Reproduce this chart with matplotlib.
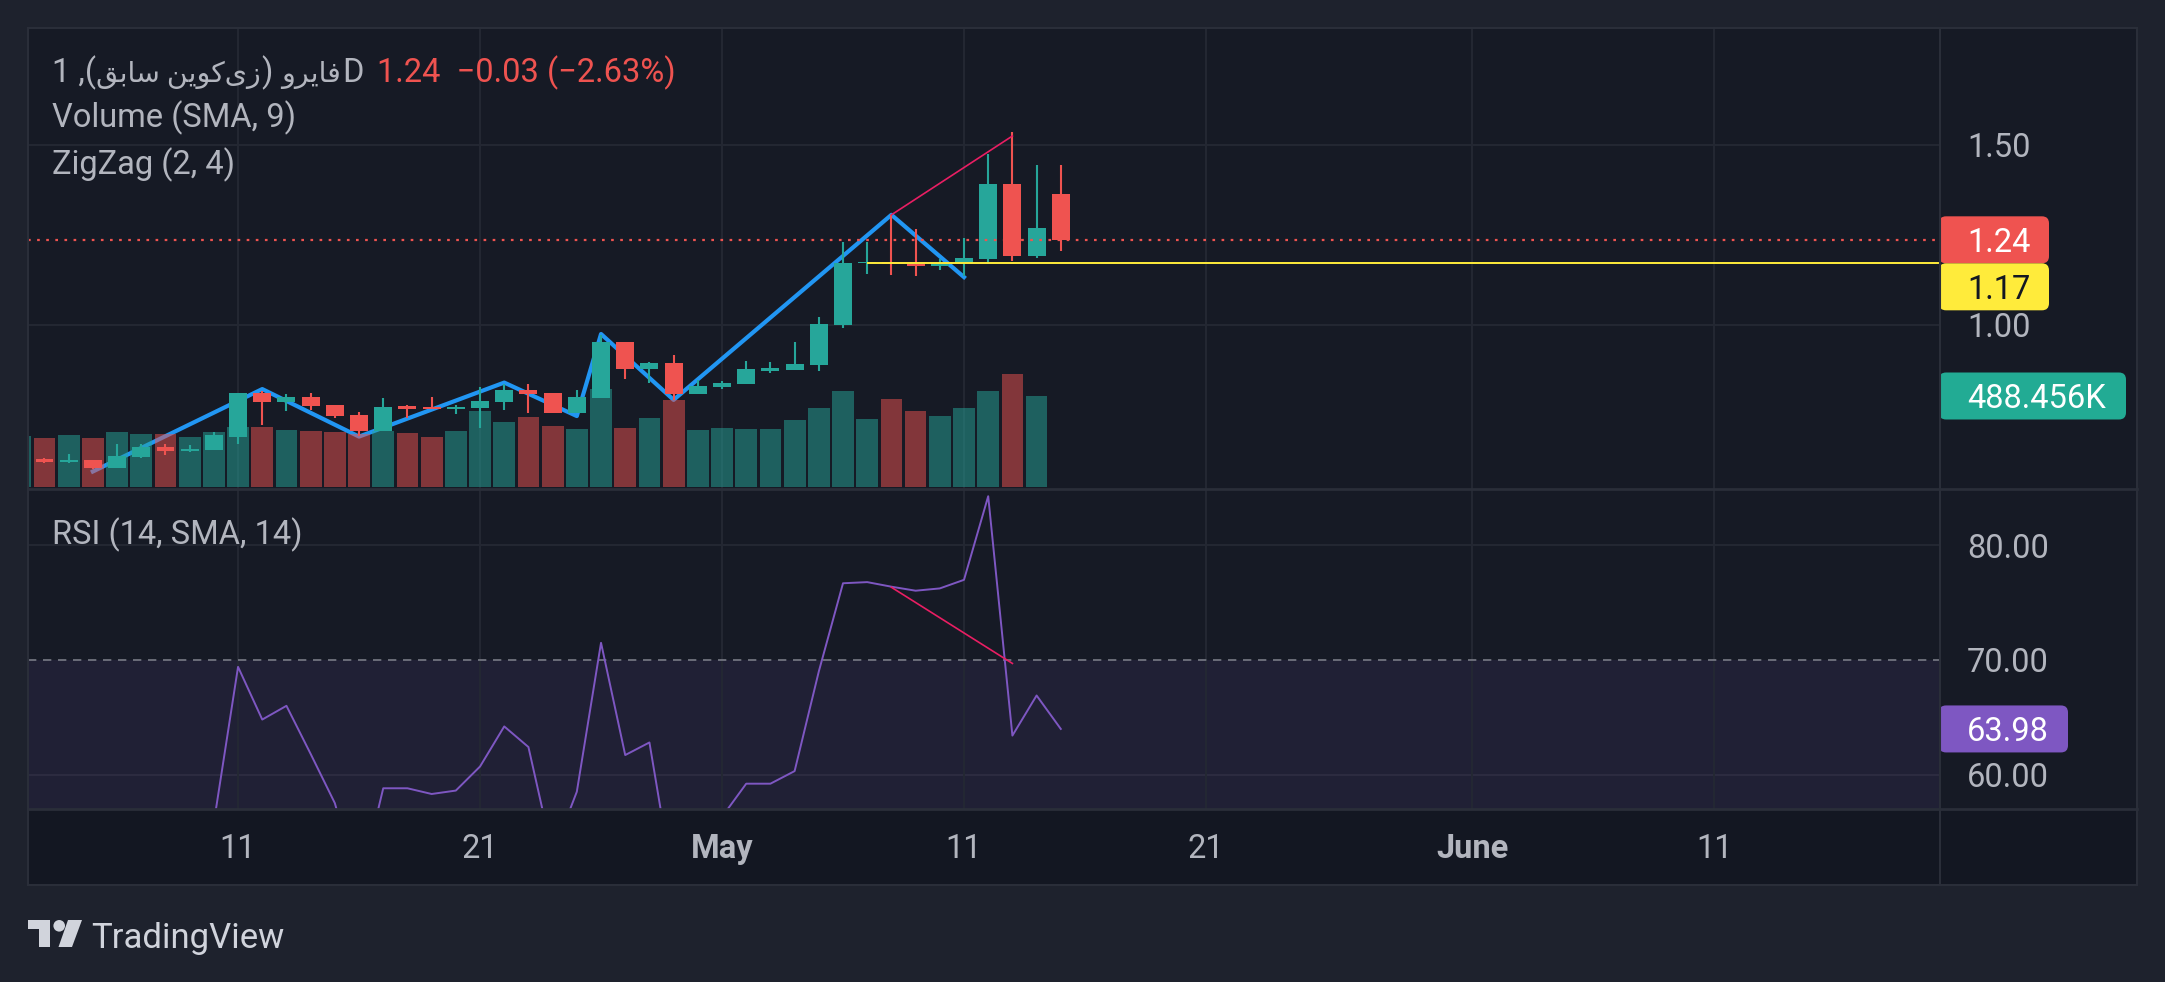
import matplotlib
matplotlib.use("Agg")
import matplotlib.pyplot as plt
import matplotlib.dates as mdates
from matplotlib.patches import FancyBboxPatch, Rectangle, Polygon, Circle
from matplotlib.lines import Line2D
from matplotlib.transforms import IdentityTransform
import pandas as pd

plt.rcParams['font.family'] = ['Roboto', 'DejaVu Sans']

# daily candles, Apr 2 .. May 15
dates = pd.date_range("2024-04-02", "2024-05-15", freq="D")
opens = [0.616, 0.628, 0.619, 0.625, 0.603, 0.633, 0.661, 0.650, 0.653, 0.689,
         0.811, 0.786, 0.800, 0.778, 0.750, 0.706, 0.775, 0.772, 0.767, 0.769,
         0.786, 0.819, 0.811, 0.756, 0.797, 0.953, 0.878, 0.894, 0.808, 0.828,
         0.836, 0.872, 0.875, 0.889, 1.000, 1.171, 1.173, 1.168, 1.165, 1.172,
         1.183, 1.392, 1.192, 1.364]
highs = [0.630, 0.630, 0.642, 0.626, 0.669, 0.669, 0.669, 0.667, 0.703, 0.812,
         0.817, 0.808, 0.811, 0.779, 0.758, 0.797, 0.778, 0.800, 0.778, 0.828,
         0.836, 0.836, 0.812, 0.819, 0.972, 0.954, 0.897, 0.917, 0.847, 0.844,
         0.900, 0.897, 0.953, 1.022, 1.231, 1.231, 1.306, 1.267, 1.184, 1.242,
         1.475, 1.536, 1.444, 1.444]
lows = [0.614, 0.618, 0.618, 0.600, 0.602, 0.631, 0.640, 0.647, 0.652, 0.669,
        0.722, 0.761, 0.764, 0.742, 0.692, 0.705, 0.742, 0.766, 0.753, 0.714,
        0.764, 0.756, 0.755, 0.755, 0.796, 0.850, 0.838, 0.792, 0.807, 0.822,
        0.835, 0.867, 0.874, 0.872, 0.992, 1.141, 1.139, 1.136, 1.153, 1.136,
        1.175, 1.178, 1.186, 1.206]
closes = [0.628, 0.619, 0.625, 0.603, 0.636, 0.661, 0.650, 0.655, 0.694, 0.811,
          0.786, 0.800, 0.775, 0.747, 0.706, 0.772, 0.767, 0.767, 0.772, 0.789,
          0.819, 0.808, 0.756, 0.800, 0.953, 0.878, 0.894, 0.808, 0.831, 0.839,
          0.878, 0.881, 0.892, 1.003, 1.172, 1.174, 1.170, 1.164, 1.172, 1.186,
          1.392, 1.192, 1.270, 1.2366]
# volume, Apr 2 .. May 14
volumes = [272000, 261000, 277000, 261000, 294000, 283000, 283000, 267000, 294000, 321000,
           321000, 305000, 299000, 294000, 287000, 300000, 288000, 267000, 299000, 406000,
           347000, 374000, 326000, 310000, 526000, 315000, 369000, 465000, 304000, 315000,
           310000, 310000, 358000, 423000, 514000, 365000, 472000, 408000, 381000, 424000,
           515000, 607000, 488456]

rsi_dates = pd.date_range("2024-04-10", "2024-05-15", freq="D")
rsi_vals = [55.8, 69.4, 64.8, 66.0, 61.8, 57.5, 50.0, 58.8, 58.8, 58.3,
            58.6, 60.7, 64.2, 62.4, 53.0, 58.5, 71.5, 61.7, 62.8, 50.2,
            52.0, 56.3, 59.2, 59.2, 60.3, 69.0, 76.7, 76.8, 76.4, 76.05,
            76.25, 77.0, 84.3, 63.4, 66.9, 63.98]

zz_dates = pd.to_datetime(["2024-04-05", "2024-04-12", "2024-04-16", "2024-04-22", "2024-04-25",
                           "2024-04-26", "2024-04-29", "2024-05-08", "2024-05-11"])
zz_prices = [0.593, 0.822, 0.690, 0.840, 0.747, 0.975, 0.792, 1.306, 1.133]

div_dates = pd.to_datetime(["2024-05-08", "2024-05-13"])
div_prices = [1.306, 1.525]
div_rsi = [76.35, 69.7]

prev_close = 1.2700
last_price = closes[-1]
level_price = 1.172
level_start = pd.Timestamp("2024-05-07")
last_volume = volumes[-1]
last_rsi = rsi_vals[-1]

tick_dates = pd.to_datetime(["2024-04-11", "2024-04-21", "2024-05-01", "2024-05-11",
                             "2024-05-21", "2024-06-01", "2024-06-11"])
tick_labels = ["11", "21", "May", "11", "21", "June", "11"]
price_ticks = [1.0, 1.5]
rsi_ticks = [60, 70, 80]

view_start = pd.Timestamp("2024-04-02 07:40")
view_end = pd.Timestamp("2024-06-20 08:00")

# ---- style ----
W, H = 2165, 982
OUTER = '#1e222d'
PANE = '#161a25'
STRIP = '#131722'
GRID = '#242833'
BORDER = '#2a2e39'
TXT = '#b2b5be'
UP = '#26a69a'
DOWN = '#ef5350'
FS = 23.5


def box(x0, y0, x1, y1):
    return [x0 / W, 1 - y1 / H, (x1 - x0) / W, (y1 - y0) / H]


def ftext(x, y, s, **kw):
    return fig.text(x / W, 1 - y / H, s, **kw)


def fline(x0, y0, x1, y1, **kw):
    fig.add_artist(Line2D([x0, x1], [H - y0, H - y1], transform=IdentityTransform(), **kw))


fig = plt.figure(figsize=(W / 100, H / 100), dpi=100, facecolor=OUTER)

fig.add_artist(Rectangle((28, H - 885), 2137 - 28, 885 - 28, transform=IdentityTransform(),
                         facecolor=PANE, edgecolor='none', zorder=-5))
fig.add_artist(Rectangle((28, H - 885), 2137 - 28, 885 - 809, transform=IdentityTransform(),
                         facecolor=STRIP, edgecolor='none', zorder=-4))

x = mdates.date2num(dates)
xl = (mdates.date2num(view_start), mdates.date2num(view_end))
cols = [UP if c >= o else DOWN for o, c in zip(opens, closes)]

ax_bg = fig.add_axes(box(28, 28, 1940, 489))
ax_vol = fig.add_axes(box(28, 28, 1940, 489))
ax = fig.add_axes(box(28, 28, 1940, 489))
ax_rsi = fig.add_axes(box(28, 489, 1940, 809))

for a in (ax_bg, ax_vol, ax, ax_rsi):
    a.set_xlim(*xl)
    for s in a.spines.values():
        s.set_visible(False)
    a.tick_params(length=0)
ax_bg.set_facecolor(PANE)
ax_rsi.set_facecolor(PANE)
ax_vol.patch.set_visible(False)
ax.patch.set_visible(False)
for a in (ax_vol, ax):
    a.set_xticks([])
    a.set_yticks([])

# price scale + grid + zigzag (under the volume)
plim = (0.5444, 1.825)
ax_bg.set_ylim(*plim)
ax.set_ylim(*plim)
ax_bg.set_xticks(mdates.date2num(tick_dates))
ax_bg.set_xticklabels([])
ax_bg.set_yticks(price_ticks)
ax_bg.set_yticklabels([f"{v:.2f}" for v in price_ticks])
ax_bg.yaxis.tick_right()
ax_bg.tick_params(axis='y', pad=19.5, labelsize=FS, labelcolor=TXT)
ax_bg.grid(True, color=GRID, lw=1.4)
ax_bg.plot(mdates.date2num(zz_dates), zz_prices, color='#2196f3', lw=3, solid_joinstyle='round')

# volume
ax_vol.set_ylim(-10735, 2463730)
ax_vol.bar(x[:len(volumes)], volumes, width=0.9, color=cols[:len(volumes)], alpha=0.5)

# candles
ax.vlines(x, lows, highs, colors=cols, lw=1.5)
bottoms = [min(o, c) for o, c in zip(opens, closes)]
heights = [max(abs(c - o), 0.005) for o, c in zip(opens, closes)]
ax.bar(x, heights, bottom=bottoms, width=0.74, color=cols)
ax.axhline(last_price, color=DOWN, lw=1.6, ls=(0, (1.2, 2.9)))
ax.hlines(level_price, mdates.date2num(level_start), xl[1], color='#ffeb3b', lw=1.4)
ax.plot(mdates.date2num(div_dates), div_prices, color='#e91e63', lw=1.2)

# RSI pane
ax_rsi.set_ylim(56.99, 84.93)
ax_rsi.axhspan(30, 70, color='#7e57c2', alpha=0.1, lw=0)
for v in (60, 80):
    ax_rsi.axhline(v, color=GRID, lw=1.4, zorder=0.5)
ax_rsi.axhline(70, color='#787b86', lw=1.2, ls=(0, (5, 4)))
ax_rsi.set_xticks(mdates.date2num(tick_dates))
ax_rsi.set_xticklabels(tick_labels)
ax_rsi.grid(True, axis='x', color=GRID, lw=1.4)
ax_rsi.set_yticks(rsi_ticks)
ax_rsi.set_yticklabels([f"{v:.2f}" for v in rsi_ticks])
ax_rsi.yaxis.tick_right()
ax_rsi.tick_params(axis='y', pad=19.5, labelsize=FS, labelcolor=TXT)
ax_rsi.tick_params(axis='x', pad=17.5, labelsize=FS, labelcolor=TXT)
for lbl in ax_rsi.get_xticklabels():
    if lbl.get_text() in ("May", "June"):
        lbl.set_fontweight('bold')
ax_rsi.plot(mdates.date2num(rsi_dates), rsi_vals, color='#7e57c2', lw=1.4)
ax_rsi.plot(mdates.date2num(div_dates), div_rsi, color='#e91e63', lw=1.2)

# borders / separators
fig.add_artist(Rectangle((28, H - 885), 2137 - 28, 885 - 28, transform=IdentityTransform(),
                         fill=False, edgecolor=BORDER, lw=1.5, zorder=10))
fline(1940, 28, 1940, 885, color=BORDER, lw=1.5, zorder=10)
fline(28, 489, 2137, 489, color=BORDER, lw=2, zorder=10)
fline(28, 809, 2137, 809, color=BORDER, lw=2, zorder=10)


def tag(yd, text, fc, tc, right):
    h = 47
    fig.add_artist(FancyBboxPatch((1939, yd - h / 2), right - 1939, h,
                                  boxstyle="round,pad=0,rounding_size=7",
                                  transform=IdentityTransform(), fc=fc, ec='none', zorder=6))
    fig.text(1967 / W, yd / H, text, color=tc, fontsize=FS, va='center_baseline', ha='left', zorder=7)


y_last = ax.transData.transform((xl[0], last_price))[1]
tag(y_last, f"{last_price:.2f}", DOWN, 'white', 2049)
tag(y_last - 47, f"{level_price:.2f}", '#ffeb3b', '#131722', 2049)
y_vol = ax_vol.transData.transform((xl[0], last_volume))[1]
tag(y_vol, f"{last_volume / 1000:.3f}K", '#22ab94', 'white', 2126)
y_rsi = ax_rsi.transData.transform((xl[0], last_rsi))[1]
tag(y_rsi, f"{last_rsi:.2f}", '#7e57c2', 'white', 2068)

# legend line: Persian name written in visual order with presentation forms,
# drawn piece by piece so the Arabic glyphs can be set a bit smaller
vis_sabeq = "\uFED6\uFE91\uFE8E\uFEB3"
vis_zikoin = "\uFEE6\uFBFE\uFEEE\uFB90\uFBFC\uFEAF"
vis_firo = "\uFEED\uFEAE\uFBFE\uFE8E\uFED3"
AR = FS * 0.87
pieces = [("1 ,(", FS, 0), (vis_sabeq + " " + vis_zikoin, AR, 1), (")", FS, 8),
          (vis_firo, AR, 1), ("D", FS, 0)]
cx = 52
fig.canvas.draw()
for s, size, gap_after in pieces:
    t = ftext(cx, 82, s, color=TXT, fontsize=size, va='baseline')
    cx = t.get_window_extent(renderer=fig.canvas.get_renderer()).x1 + gap_after
chg = last_price - prev_close
pct = chg / prev_close * 100
ftext(cx + 14, 82, f"{last_price:.2f}  \u2212{abs(chg):.2f} (\u2212{abs(pct):.2f}%)",
      color=DOWN, fontsize=FS, va='baseline')
ftext(52, 127, "Volume (SMA, 9)", color=TXT, fontsize=FS, va='baseline')
ftext(52, 174, "ZigZag (2, 4)", color=TXT, fontsize=FS, va='baseline')
ftext(52, 544, "RSI (14, SMA, 14)", color=TXT, fontsize=FS, va='baseline')

# TradingView logo
LOGO = '#d1d4dc'
fig.add_artist(Polygon([(28, H - 920), (50, H - 920), (50, H - 947), (39, H - 947), (39, H - 929), (28, H - 929)],
                       closed=True, transform=IdentityTransform(), fc=LOGO, ec='none'))
fig.add_artist(Circle((59.2, H - 925.8), 5.8, transform=IdentityTransform(), fc=LOGO, ec='none'))
fig.add_artist(Polygon([(68, H - 920), (82, H - 920), (72, H - 947), (58.5, H - 947)],
                       closed=True, transform=IdentityTransform(), fc=LOGO, ec='none'))
ftext(91, 948, "TradingView", color=LOGO, fontsize=25, va='baseline')

fig.savefig("out.png", dpi=100, facecolor=OUTER)
